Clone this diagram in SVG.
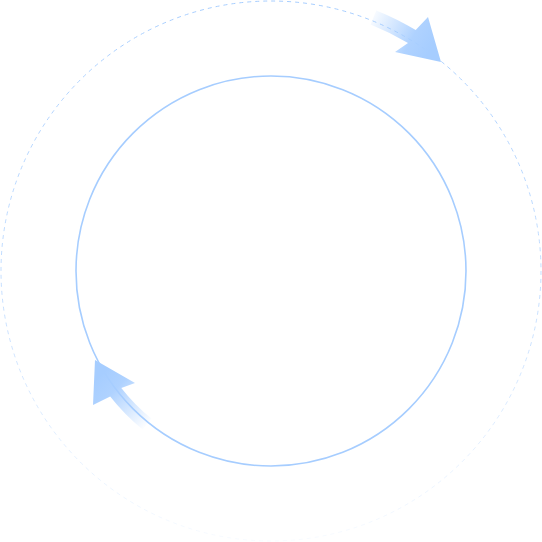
<svg xmlns="http://www.w3.org/2000/svg" width="542" height="542" viewBox="0 0 542 542">
  <defs>
    <linearGradient id="ring" x1="0" y1="0" x2="0" y2="1">
      <stop offset="0" stop-color="#A6CDFF" stop-opacity="1"/>
      <stop offset="0.6" stop-color="#A6CDFF" stop-opacity="0.6"/>
      <stop offset="1" stop-color="#A6CDFF" stop-opacity="0.08"/>
    </linearGradient>
    <linearGradient id="gTop" gradientUnits="userSpaceOnUse" x1="368" y1="16" x2="430" y2="50">
      <stop offset="0" stop-color="#A6CDFF" stop-opacity="0"/>
      <stop offset="0.7" stop-color="#A6CDFF" stop-opacity="0.9"/>
      <stop offset="1" stop-color="#A6CDFF" stop-opacity="1"/>
    </linearGradient>
    <linearGradient id="gBot" gradientUnits="userSpaceOnUse" x1="150" y1="424" x2="100" y2="375">
      <stop offset="0" stop-color="#A6CDFF" stop-opacity="0"/>
      <stop offset="0.7" stop-color="#A6CDFF" stop-opacity="0.9"/>
      <stop offset="1" stop-color="#A6CDFF" stop-opacity="1"/>
    </linearGradient>
  </defs>
  <style>
    .outer { fill: none; stroke: url(#ring); stroke-width: 1; stroke-dasharray: 4 4; }
    .inner { fill: none; stroke: #A6CDFF; stroke-width: 1.6; }
  </style>
  <g id="outer-ring">
    <circle class="outer" cx="271" cy="271" r="270"/>
  </g>
  <g id="inner-ring">
    <circle class="inner" cx="271" cy="271" r="195"/>
  </g>
  <g id="connectors">
    <path id="arrow-top" fill="url(#gTop)" d="M376.3 10.5 A281 281 0 0 1 415.7 30.1 L428 17 L441 62 L395 52 L408 43 A266 266 0 0 0 370.6 24.4 Z"/>
    <path id="arrow-bottom" fill="url(#gBot)" d="M142.6 429.5 A204 204 0 0 1 110.2 396.6 L93 405 L95 360 L135 383 L121.3 388 A190 190 0 0 0 151.4 418.6 Z"/>
  </g>
</svg>
